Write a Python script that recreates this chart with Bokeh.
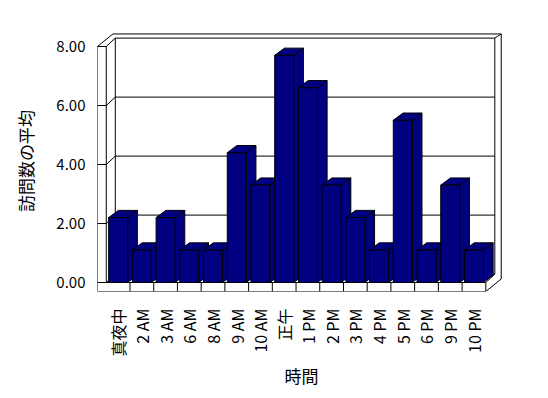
import numpy as np
from bokeh.plotting import figure
from bokeh.models import FixedTicker, NumeralTickFormatter, Range1d
from bokeh.embed import file_html
from bokeh.resources import INLINE

# ---- data ----
categories = ["真夜中", "2 AM", "3 AM", "6 AM", "8 AM", "9 AM", "10 AM", "正午",
              "1 PM", "2 PM", "3 PM", "4 PM", "5 PM", "6 PM", "9 PM", "10 PM"]
values = [2.2, 1.1, 2.2, 1.1, 1.1, 4.4, 3.3, 7.7, 6.6, 3.3, 2.2, 1.1, 5.5, 1.1, 3.3, 1.1]
y_ticks = [0, 2, 4, 6, 8]
x_title = "時間"
y_title = "訪問数の平均"

FONT = "Noto Sans CJK JP"
NAVY = "#000080"

n = len(categories)
ymax = y_ticks[-1]
# 3D geometry (data units)
WL = 0.37             # left wall thickness
HF = 0.305            # floor thickness
DX, DY = 0.38, 0.285  # plot depth
TX, TY = 0.27, 0.14   # back wall thickness
BDX, BDY = 0.41, 0.245  # bar depth
GAP = 0.1

p = figure(width=535, height=395,
           x_range=Range1d(-WL, -WL + 408 / 23.72),
           y_range=Range1d(-HF, -HF + 261 / 29.5),
           output_backend="svg", toolbar_location=None,
           min_border_left=97, min_border_top=30,
           min_border_right=30, min_border_bottom=104)
p.grid.visible = False
p.outline_line_color = None
p.background_fill_color = "white"
p.border_fill_color = "white"

# box silhouette
p.patch([-WL, n, n + DX + TX, n + DX + TX, -WL + DX + TX, -WL],
        [-HF, -HF, -HF + DY + TY, ymax + DY + TY, ymax + DY + TY, ymax],
        fill_color="white", line_color="black", line_width=1)

xs, ys = [], []
# front inner edges
xs.append([n, n, 0, 0, -WL]); ys.append([-HF, 0, 0, ymax, ymax])
# right side
xs.append([n, n + DX, n + DX, n + DX + TX]); ys.append([0, DY, ymax + DY, ymax + DY + TY])
# back wall left edge
xs.append([DX, DX]); ys.append([DY, ymax + DY])
# gridlines (left wall + back wall)
for v in y_ticks:
    xs.append([0, DX, n + DX]); ys.append([v, v + DY, v + DY])
# category dividers on floor front
for i in range(1, n):
    xs.append([i, i]); ys.append([-HF, 0])
p.multi_line(xs, ys, line_color="black", line_width=1)

# bars
bx, by = [], []
for i, v in enumerate(values):
    x0, x1 = i + GAP, i + 1 - GAP
    bx.append([x1, x1 + BDX, x1 + BDX, x1]); by.append([0, BDY, v + BDY, v])
    bx.append([x0, x1, x1 + BDX, x0 + BDX]); by.append([v, v, v + BDY, v + BDY])
    bx.append([x0, x1, x1, x0]); by.append([0, 0, v, v])
p.patches(bx, by, fill_color=NAVY, line_color="black", line_width=1)

# axes
xa = p.xaxis[0]
xa.ticker = FixedTicker(ticks=[i + 0.5 for i in range(n)])
xa.major_label_overrides = {i + 0.5: c for i, c in enumerate(categories)}
xa.major_label_orientation = np.pi / 2
xa.axis_line_color = None
xa.major_tick_line_color = None
xa.minor_tick_line_color = None
xa.major_label_standoff = 11
xa.major_label_text_font = FONT
xa.major_label_text_font_size = "16px"
xa.major_label_text_color = "black"
xa.axis_label = x_title
xa.axis_label_text_font = FONT
xa.axis_label_text_font_size = "17px"
xa.axis_label_text_font_style = "normal"
xa.axis_label_text_color = "black"
xa.axis_label_standoff = 3

ya = p.yaxis[0]
ya.ticker = FixedTicker(ticks=y_ticks)
ya.formatter = NumeralTickFormatter(format="0.00")
ya.axis_line_color = None
ya.major_tick_in = 9
ya.major_tick_out = 0
ya.major_tick_line_color = "black"
ya.minor_tick_line_color = None
ya.major_label_standoff = 12
ya.major_label_text_font = FONT
ya.major_label_text_font_size = "15px"
ya.major_label_text_color = "black"
ya.axis_label = y_title
ya.axis_label_text_font = FONT
ya.axis_label_text_font_size = "17px"
ya.axis_label_text_font_style = "normal"
ya.axis_label_text_color = "black"
ya.axis_label_standoff = 15

open("out.html", "w").write(file_html(p, INLINE))
